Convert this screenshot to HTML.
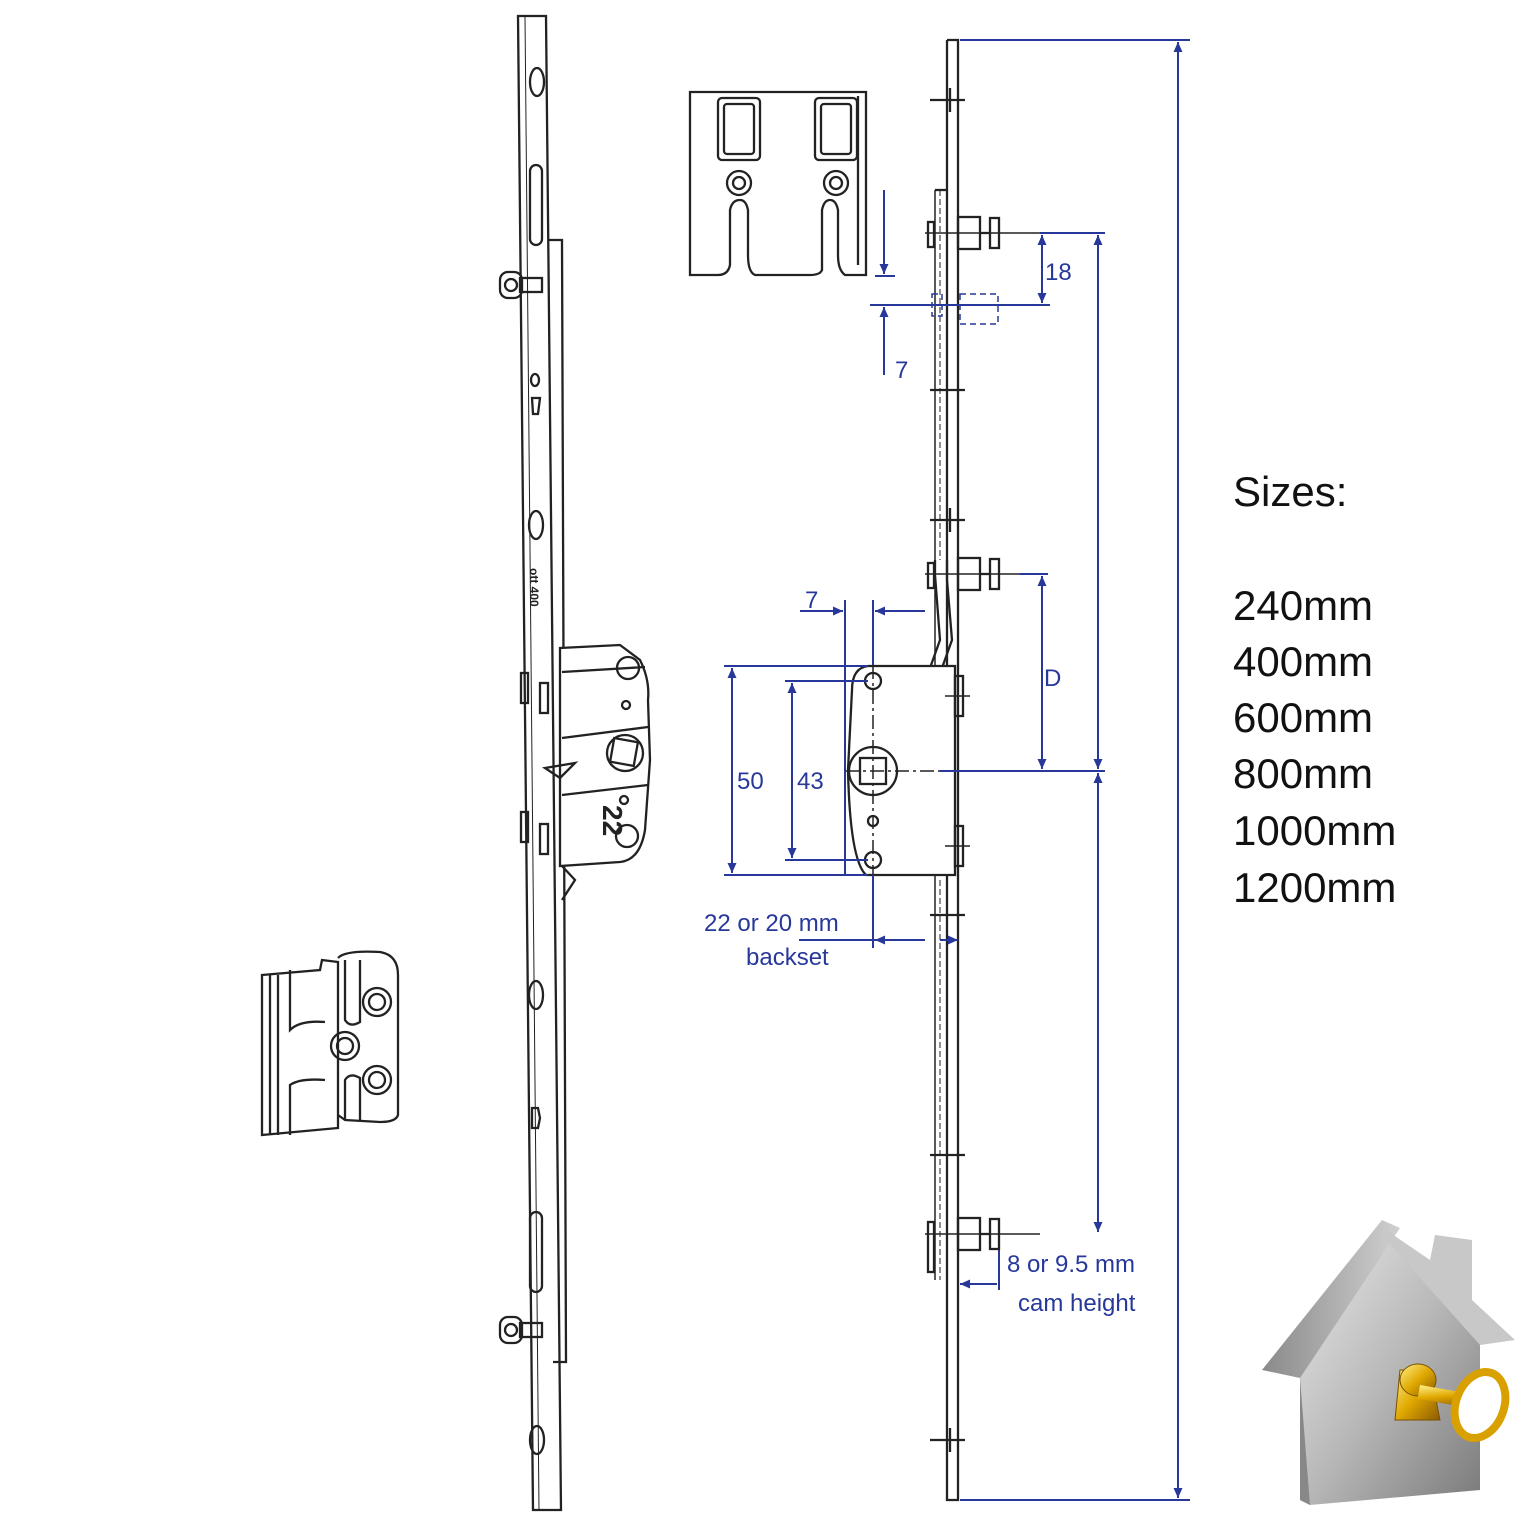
<!DOCTYPE html>
<html><head><meta charset="utf-8"><style>
html,body{margin:0;padding:0;background:#fff}
svg{display:block}
text{font-family:"Liberation Sans",sans-serif}
</style></head><body>
<svg width="1536" height="1536" viewBox="0 0 1536 1536" xmlns="http://www.w3.org/2000/svg">
<defs>
<marker id="a" viewBox="0 0 10 10" refX="10" refY="5" markerWidth="10" markerHeight="16" orient="auto-start-reverse" markerUnits="userSpaceOnUse"><path d="M0,0.5 L10,5 L0,9.5 z" fill="#27389a"/></marker>
<linearGradient id="hg" x1="0" y1="0" x2="1" y2="1"><stop offset="0" stop-color="#e8e8e8"/><stop offset="0.5" stop-color="#b8b8b8"/><stop offset="1" stop-color="#7a7a7a"/></linearGradient>
<linearGradient id="rg" x1="0" y1="0" x2="1" y2="0"><stop offset="0" stop-color="#8a8a8a"/><stop offset="1" stop-color="#d0d0d0"/></linearGradient>
<linearGradient id="gd" x1="0" y1="0" x2="1" y2="1"><stop offset="0" stop-color="#fff08a"/><stop offset="0.5" stop-color="#e0a800"/><stop offset="1" stop-color="#8a5a00"/></linearGradient>
</defs>
<g fill="none" stroke="#222" stroke-width="2.3">
<!-- left faceplate -->
<polygon points="518,16 546,16 561,1510 533,1510" fill="#fff"/>
<line x1="525" y1="16" x2="539" y2="1510" stroke-width="1"/>
<polyline points="548,240 562,240 566,1362 553,1362"/>
<ellipse cx="537" cy="82" rx="7" ry="14"/>
<ellipse cx="536" cy="525" rx="7" ry="14"/>
<ellipse cx="536" cy="995" rx="7" ry="14"/>
<ellipse cx="537" cy="1440" rx="7" ry="14"/>
<rect x="530" y="165" width="12" height="80" rx="6"/>
<rect x="530" y="1212" width="12" height="80" rx="6"/>
<ellipse cx="535" cy="380" rx="4" ry="6"/>
<path d="M532,398 h8 l-2,16 h-5z"/>
<path d="M532,1108 h6 l2,10 l-2,10 h-6z"/>
<text font-size="12" font-weight="bold" fill="#222" stroke="none" transform="translate(530,568) rotate(90)">ott 400</text>
<!-- pins -->
<rect x="500" y="272" width="22" height="26" rx="8" fill="#fff"/><circle cx="511" cy="285" r="6"/><rect x="520" y="278" width="22" height="14"/>
<rect x="500" y="1317" width="22" height="26" rx="8" fill="#fff"/><circle cx="511" cy="1330" r="6"/><rect x="520" y="1323" width="22" height="14"/>
<!-- gearbox -->
<path d="M560,648 L620,645 L640,660 Q650,680 648,700 L650,760 L645,830 Q640,860 620,862 L560,866 Z" fill="#fff"/>
<line x1="562" y1="672" x2="645" y2="667"/><line x1="562" y1="738" x2="648" y2="727"/><line x1="562" y1="795" x2="648" y2="785"/>
<circle cx="628" cy="668" r="11"/><circle cx="627" cy="836" r="11"/>
<circle cx="626" cy="705" r="4"/><circle cx="624" cy="800" r="4"/>
<circle cx="625" cy="753" r="18"/><rect x="612" y="740" width="24" height="24" transform="rotate(10 624 752)"/>
<text x="590" y="812" font-size="28" font-weight="bold" fill="#222" stroke="none" transform="rotate(90 600 815)">22</text>
<rect x="521" y="673" width="7" height="30"/><rect x="540" y="683" width="8" height="30"/>
<rect x="521" y="812" width="7" height="30"/><rect x="540" y="824" width="8" height="30"/>
<path d="M545,768 L575,763 L560,778 Z"/>
<path d="M562,866 L575,880 L562,900"/>
<!-- keep bottom-left -->
<path d="M262,975 L320,970 L322,960 L338,962 L338,1128 L262,1135 Z" fill="#fff"/>
<line x1="270" y1="975" x2="270" y2="1135"/><line x1="278" y1="975" x2="278" y2="1135"/>
<path d="M290,970 L290,1030 Q300,1020 325,1022"/>
<path d="M290,1135 L290,1085 Q300,1078 325,1080"/>
<path d="M338,958 Q345,950 380,952 Q398,955 398,975 L398,1115 Q396,1122 380,1122 L345,1120 L338,1115"/>
<path d="M345,960 L345,1020 Q350,1028 360,1022 L360,960"/>
<path d="M345,1120 L345,1080 Q350,1072 360,1078 L360,1120"/>
<circle cx="377" cy="1002" r="14"/><circle cx="377" cy="1002" r="8"/>
<circle cx="345" cy="1046" r="14"/><circle cx="345" cy="1046" r="8"/>
<circle cx="377" cy="1080" r="14"/><circle cx="377" cy="1080" r="8"/>
<!-- keep top -->
<path d="M690,92 L866,92 L866,275 L845,275 Q838,270 838,255 L838,210 Q836,200 830,200 Q824,200 822,210 L822,270 Q820,275 810,275 L755,275 Q748,272 748,255 L748,210 Q746,200 740,200 Q732,200 730,210 L730,265 Q728,275 718,275 L690,275 Z" fill="#fff"/>
<path d="M858,96 L858,265"/>
<rect x="718" y="98" width="42" height="62" rx="4"/><rect x="724" y="104" width="30" height="50" rx="3"/>
<rect x="815" y="98" width="42" height="62" rx="4"/><rect x="821" y="104" width="30" height="50" rx="3"/>
<circle cx="739" cy="183" r="12"/><circle cx="739" cy="183" r="6"/>
<circle cx="836" cy="183" r="12"/><circle cx="836" cy="183" r="6"/>
<!-- right strip -->
<polyline points="947,40 958,40 958,1500 947,1500 947,40"/>
<line x1="935" y1="190" x2="935" y2="1280" stroke-width="1.5"/>
<line x1="940" y1="190" x2="940" y2="560" stroke-dasharray="6,3" stroke-width="1"/>
<line x1="940" y1="880" x2="940" y2="1280" stroke-dasharray="6,3" stroke-width="1"/>
<path d="M935,190 L947,190"/>
<path d="M935,560 L935,575 L940,640 L930,668"/><path d="M947,560 L947,580 L952,640 L942,668"/>
<line x1="930" y1="100" x2="965" y2="100"/><line x1="950" y1="88" x2="950" y2="112"/>
<line x1="930" y1="520" x2="965" y2="520"/><line x1="950" y1="508" x2="950" y2="532"/>
<line x1="930" y1="1440" x2="965" y2="1440"/><line x1="950" y1="1428" x2="950" y2="1452"/>
<line x1="930" y1="390" x2="965" y2="390"/><line x1="930" y1="915" x2="965" y2="915"/><line x1="930" y1="1155" x2="965" y2="1155"/>
<!-- rollers -->
<rect x="958" y="217" width="22" height="32"/><rect x="990" y="218" width="9" height="30"/><line x1="980" y1="233" x2="990" y2="233"/>
<rect x="958" y="558" width="22" height="32"/><rect x="990" y="559" width="9" height="30"/><line x1="980" y1="574" x2="990" y2="574"/>
<rect x="958" y="1218" width="22" height="32"/><rect x="990" y="1219" width="9" height="30"/><line x1="980" y1="1234" x2="990" y2="1234"/>
<rect x="928" y="222" width="6" height="25"/><rect x="928" y="563" width="6" height="25"/><rect x="928" y="1222" width="6" height="50"/>
<line x1="925" y1="233" x2="1040" y2="233" stroke-width="1.5"/>
<line x1="925" y1="574" x2="1020" y2="574" stroke-width="1.5"/>
<line x1="925" y1="1234" x2="1040" y2="1234" stroke-width="1.5"/>
<g stroke-dasharray="6,4" stroke="#27389a" stroke-width="1.5"><rect x="932" y="294" width="10" height="22"/><rect x="960" y="294" width="38" height="30"/></g>
<!-- lock body -->
<path d="M955,666 L868,666 Q852,668 852,690 L848,770 Q850,860 866,875 L955,875 Z" fill="#fff"/>
<rect x="955" y="676" width="8" height="40"/><rect x="955" y="826" width="8" height="40"/>
<line x1="945" y1="696" x2="970" y2="696" stroke-width="1.5"/><line x1="945" y1="846" x2="970" y2="846" stroke-width="1.5"/>
<circle cx="873" cy="681" r="8"/><circle cx="873" cy="860" r="8"/><circle cx="873" cy="821" r="5"/>
<circle cx="873" cy="771" r="24"/><rect x="860" y="758" width="26" height="26"/>
<line x1="845" y1="771" x2="945" y2="771" stroke-dasharray="14,4,3,4" stroke-width="1.5"/>
<line x1="873" y1="665" x2="873" y2="880" stroke-dasharray="14,4,3,4" stroke-width="1.5"/>
</g>
<!-- dimensions -->
<g stroke="#27389a" stroke-width="2" fill="none">
<line x1="960" y1="40" x2="1190" y2="40"/><line x1="960" y1="1500" x2="1190" y2="1500"/>
<line x1="1178" y1="42" x2="1178" y2="1498" marker-start="url(#a)" marker-end="url(#a)"/>
<line x1="1040" y1="233" x2="1105" y2="233"/>
<line x1="1098" y1="235" x2="1098" y2="769" marker-start="url(#a)" marker-end="url(#a)"/>
<line x1="1098" y1="773" x2="1098" y2="1232" marker-start="url(#a)" marker-end="url(#a)"/>
<line x1="940" y1="771" x2="1105" y2="771"/>
<line x1="1020" y1="574" x2="1048" y2="574"/>
<line x1="1042" y1="576" x2="1042" y2="769" marker-start="url(#a)" marker-end="url(#a)"/>
<line x1="1042" y1="235" x2="1042" y2="303" marker-start="url(#a)" marker-end="url(#a)"/>
<line x1="870" y1="305" x2="1050" y2="305"/>
<line x1="875" y1="276" x2="895" y2="276"/>
<line x1="884" y1="190" x2="884" y2="274" marker-end="url(#a)"/>
<line x1="884" y1="375" x2="884" y2="307" marker-end="url(#a)"/>
<line x1="845" y1="600" x2="845" y2="875"/>
<line x1="873" y1="600" x2="873" y2="665"/>
<line x1="800" y1="611" x2="843" y2="611" marker-end="url(#a)"/>
<line x1="925" y1="611" x2="875" y2="611" marker-end="url(#a)"/>
<line x1="724" y1="666" x2="868" y2="666"/><line x1="724" y1="875" x2="868" y2="875"/>
<line x1="732" y1="668" x2="732" y2="873" marker-start="url(#a)" marker-end="url(#a)"/>
<line x1="785" y1="681" x2="868" y2="681"/><line x1="785" y1="860" x2="868" y2="860"/>
<line x1="792" y1="683" x2="792" y2="858" marker-start="url(#a)" marker-end="url(#a)"/>
<line x1="873" y1="875" x2="873" y2="948"/>
<line x1="799" y1="940" x2="875" y2="940"/>
<line x1="925" y1="940" x2="875" y2="940" marker-end="url(#a)"/>
<line x1="940" y1="940" x2="958" y2="940" marker-end="url(#a)"/>
<line x1="999" y1="1250" x2="999" y2="1290"/>
<line x1="997" y1="1284" x2="960" y2="1284" marker-end="url(#a)"/>
</g>
<g fill="#27389a" font-size="24" font-family="Liberation Sans,sans-serif">
<text x="1045" y="280">18</text><text x="895" y="378">7</text><text x="805" y="608">7</text>
<text x="1044" y="686">D</text><text x="737" y="789">50</text><text x="797" y="789">43</text>
<text x="704" y="931">22 or 20  mm</text><text x="746" y="965">backset</text>
<text x="1007" y="1272">8 or 9.5 mm</text><text x="1018" y="1311">cam height</text>
</g>
<g fill="#111" font-size="42">
<text x="1233" y="506">Sizes:</text>
<text x="1233" y="620">240mm</text><text x="1233" y="676">400mm</text><text x="1233" y="732">600mm</text>
<text x="1233" y="788">800mm</text><text x="1233" y="845">1000mm</text><text x="1233" y="902">1200mm</text>
</g>
<!-- house icon -->
<polygon points="1300,1378 1386,1240 1480,1330 1480,1490 1310,1505 1300,1500" fill="url(#hg)"/>
<polygon points="1262,1370 1382,1220 1400,1228 1300,1378" fill="url(#rg)"/>
<polygon points="1386,1230 1430,1260 1435,1235 1472,1240 1472,1300 1515,1340 1480,1345 1386,1240" fill="#c8c8c8"/>
<polygon points="1300,1378 1310,1505 1300,1500" fill="#888"/>
<path d="M1400,1370 h30 l10,50 h-45z" fill="url(#gd)" stroke="#7a5000"/>
<ellipse cx="1418" cy="1380" rx="18" ry="16" fill="url(#gd)" stroke="#7a5000"/>
<rect x="1420" y="1385" width="50" height="14" fill="url(#gd)" transform="rotate(10 1420 1385)"/>
<ellipse cx="1480" cy="1405" rx="24" ry="34" fill="#fff" stroke="#d8a000" stroke-width="8" transform="rotate(20 1480 1405)"/>
</svg>
</body></html>
